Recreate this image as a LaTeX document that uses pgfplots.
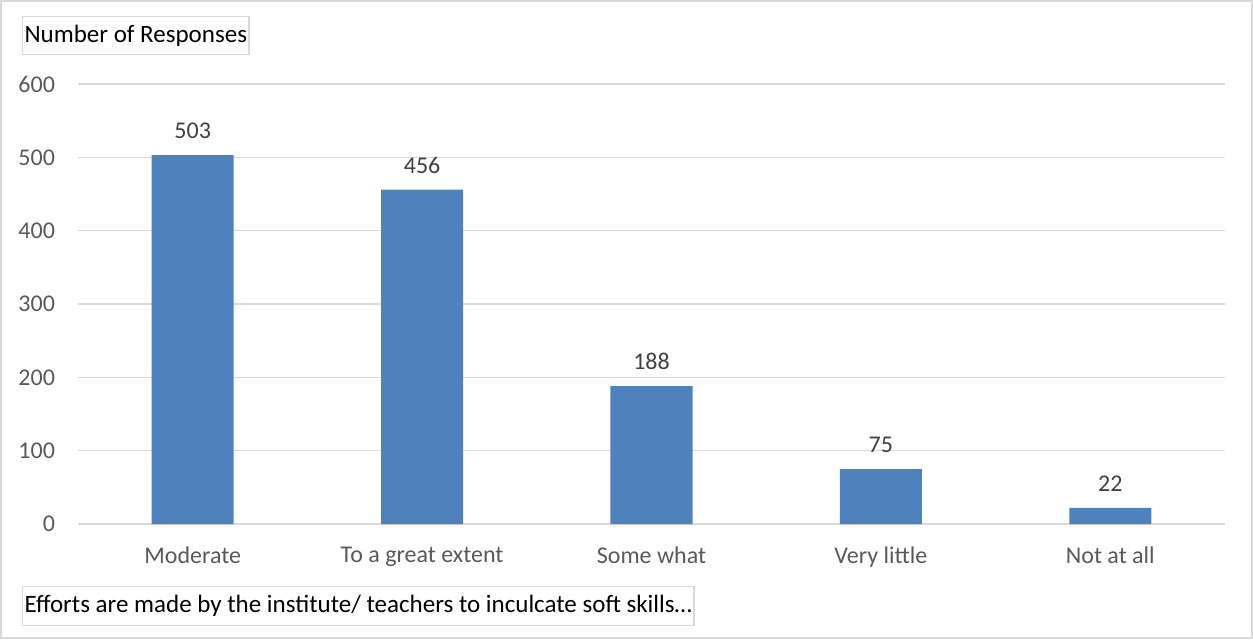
\documentclass[border=0pt]{standalone}
\usepackage{pgfplots}
\pgfplotsset{compat=1.18}
\usepackage{fontspec}
\setmainfont{Carlito}
\definecolor{barblue}{HTML}{4F81BD}
\definecolor{gridgray}{HTML}{D9D9D9}
\definecolor{ticktext}{HTML}{595959}
\definecolor{lbltext}{HTML}{404040}
\begin{document}
\begin{tikzpicture}
\path[use as bounding box] (0,0) rectangle (626.5pt,319.5pt);
\draw[gridgray, line width=0.6pt] (0.5pt,0.5pt) rectangle (626pt,319pt);
\begin{axis}[
  at={(39pt,57.5pt)}, anchor=south west,
  scale only axis, width=573.5pt, height=220pt,
  ymin=0, ymax=600, ytick={0,100,...,600},
  xmin=-0.5, xmax=4.5, xtick=data,
  xticklabels={Moderate, To a great extent, Some what, Very little, Not at all},
  axis line style={draw=none},
  major tick length=0pt,
  ymajorgrids, grid style={gridgray, line width=0.8pt},
  tick label style={font=\fontsize{12}{14}\selectfont, text=ticktext},
  xticklabel style={yshift=-8pt},
  yticklabel style={xshift=-8pt},
  /pgf/number format/assume math mode=true,
  ybar, bar width=41pt,
  nodes near coords,
  every node near coord/.append style={font=\fontsize{12}{14}\selectfont, text=lbltext, yshift=4.5pt},
  clip=false,
]
\addplot[fill=barblue, draw=none] coordinates {(0,503) (1,456) (2,188) (3,75) (4,22)};
\end{axis}
\node[draw=gridgray, line width=0.6pt, anchor=south west, inner xsep=1pt, inner ysep=3pt, font=\fontsize{12.5}{14}\selectfont, text=black, minimum height=19pt] at (11pt,292pt) {Number of Responses};
\node[draw=gridgray, line width=0.6pt, anchor=south west, inner xsep=1pt, inner ysep=3pt, font=\fontsize{12.5}{14}\selectfont, text=black, minimum height=19.5pt] at (11pt,6.5pt) {Efforts are made by the institute/ teachers to inculcate soft skills…};
\end{tikzpicture}
\end{document}
